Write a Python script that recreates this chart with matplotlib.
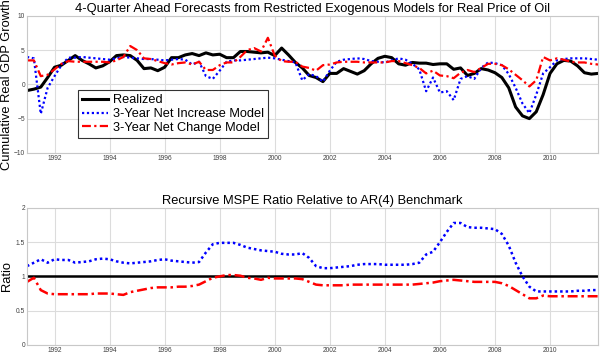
import numpy as np
import matplotlib
matplotlib.use("Agg")
import matplotlib.pyplot as plt

plt.rcParams["font.family"] = ["Liberation Sans", "DejaVu Sans"]

# quarterly dates 1991Q1 .. 2011Q4
start_year = 1991
n_years = 21
dates = start_year + np.arange(n_years * 4) / 4.0

# --- top panel: 4-quarter-ahead cumulative real GDP growth ---
realized = [
    -0.9, -0.7, -0.4, 1.0,   # 1991
    2.5, 2.8, 3.5, 4.2,      # 1992
    3.5, 3.0, 2.4, 2.7,      # 1993
    3.3, 4.2, 4.3, 4.2,      # 1994
    3.5, 2.3, 2.4, 2.0,      # 1995
    2.5, 3.9, 3.9, 4.3,      # 1996
    4.5, 4.2, 4.6, 4.3,      # 1997
    4.4, 3.9, 3.9, 4.8,      # 1998
    4.8, 4.7, 4.6, 4.7,      # 1999
    4.2, 5.3, 4.3, 3.2,      # 2000
    2.4, 1.3, 1.0, 0.4,      # 2001
    1.6, 1.6, 2.3, 1.9,      # 2002
    1.5, 2.0, 3.0, 3.8,      # 2003
    4.1, 3.9, 3.0, 2.8,      # 2004
    3.2, 3.1, 3.1, 2.9,      # 2005
    3.0, 3.0, 2.2, 2.4,      # 2006
    1.3, 1.6, 2.3, 2.1,      # 2007
    1.7, 1.0, -0.5, -3.3,    # 2008
    -4.6, -5.0, -4.0, -1.5,  # 2009
    1.6, 3.0, 3.5, 3.4,      # 2010
    2.7, 1.7, 1.5, 1.6,      # 2011
]
net_increase = [
    4.0, 3.8, -4.3, -0.5,
    1.2, 2.8, 3.9, 3.9,
    4.0, 3.9, 3.8, 3.7,
    3.6, 3.8, 4.0, 3.9,
    3.8, 3.7, 3.7, 3.6,
    3.5, 3.6, 3.7, 3.6,
    2.9, 3.3, 1.2, 0.8,
    2.0, 3.3, 3.5, 3.5,
    3.6, 3.7, 3.8, 3.9,
    3.8, 3.6, 3.4, 3.2,
    0.6, 1.5, 1.2, 0.4,
    2.0, 3.3, 3.6, 3.7,
    3.8, 3.7, 3.4, 3.3,
    3.2, 3.5, 3.8, 3.6,
    3.0, 2.2, -1.0, 1.0,
    -1.2, -1.0, -2.3, 0.8,
    1.2, 0.8, 2.4, 3.2,
    3.1, 2.8, 1.5, -0.5,
    -2.8, -4.2, -1.5, 1.6,
    2.5, 3.5, 3.7, 3.8,
    3.8, 3.8, 3.7, 3.6,
]
net_change = [
    3.5, 3.5, 1.2, 1.4,
    2.2, 3.0, 3.4, 3.3,
    3.3, 3.3, 3.3, 3.3,
    3.2, 3.5, 4.0, 5.6,
    5.0, 3.8, 3.7, 3.4,
    3.1, 2.9, 3.1, 3.2,
    2.9, 3.3, 2.1, 2.1,
    2.8, 3.2, 3.2, 4.0,
    5.0, 5.3, 4.8, 6.8,
    4.2, 3.4, 3.3, 3.3,
    2.6, 2.4, 2.0, 2.8,
    2.9, 3.2, 3.3, 3.3,
    3.3, 3.2, 3.2, 3.2,
    3.2, 3.4, 3.4, 3.1,
    2.8, 2.4, 1.6, 2.0,
    1.3, 1.2, 0.9, 1.7,
    2.1, 1.8, 2.4, 3.0,
    3.0, 2.8, 2.2, 1.4,
    0.6, -0.3, 0.6, 4.0,
    3.5, 3.8, 3.6, 3.3,
    3.2, 3.2, 3.0, 2.9,
]

# --- bottom panel: recursive MSPE ratio ---
mspe_increase = [
    1.15, 1.20, 1.25, 1.20,
    1.25, 1.24, 1.24, 1.20,
    1.21, 1.22, 1.25, 1.26,
    1.25, 1.22, 1.20, 1.19,
    1.20, 1.21, 1.22, 1.24,
    1.25, 1.23, 1.22, 1.21,
    1.20, 1.21, 1.35, 1.47,
    1.49, 1.49, 1.49, 1.46,
    1.42, 1.40, 1.38, 1.37,
    1.36, 1.33, 1.32, 1.32,
    1.34, 1.27, 1.15, 1.12,
    1.12, 1.13, 1.14, 1.15,
    1.17, 1.18, 1.18, 1.18,
    1.17, 1.17, 1.17, 1.17,
    1.18, 1.20, 1.32, 1.36,
    1.50, 1.65, 1.78, 1.78,
    1.72, 1.71, 1.71, 1.70,
    1.69, 1.62, 1.45, 1.20,
    1.00, 0.85, 0.78, 0.78,
    0.78, 0.78, 0.78, 0.78,
    0.79, 0.79, 0.80, 0.80,
]
mspe_change = [
    0.92, 0.98, 0.80, 0.75,
    0.74, 0.74, 0.74, 0.74,
    0.74, 0.74, 0.75, 0.75,
    0.75, 0.74, 0.73, 0.77,
    0.79, 0.81, 0.83, 0.84,
    0.84, 0.84, 0.85, 0.85,
    0.86, 0.88, 0.93, 0.98,
    1.00, 1.02, 1.02, 1.01,
    0.98, 0.97, 0.95, 0.98,
    0.97, 0.97, 0.97, 0.97,
    0.96, 0.92, 0.88, 0.87,
    0.87, 0.87, 0.87, 0.88,
    0.88, 0.88, 0.88, 0.88,
    0.88, 0.88, 0.88, 0.88,
    0.88, 0.89, 0.90, 0.91,
    0.93, 0.94, 0.95, 0.94,
    0.93, 0.92, 0.92, 0.92,
    0.92, 0.90, 0.86, 0.80,
    0.74, 0.68, 0.68, 0.72,
    0.71, 0.71, 0.71, 0.71,
    0.71, 0.71, 0.71, 0.71,
]

xticks = list(range(1992, 2012, 2))

fig = plt.figure(figsize=(6.0, 3.53), dpi=100)
ax1 = fig.add_axes([0.045, 0.567, 0.952, 0.388])
ax2 = fig.add_axes([0.045, 0.023, 0.952, 0.388])


def style_axes(ax):
    ax.set_xlim(dates[0], dates[-1])
    ax.set_xticks(xticks)
    ax.grid(True, color="#dcdcdc", linewidth=0.8)
    ax.set_axisbelow(True)
    for s in ax.spines.values():
        s.set_color("#c8c8c8")
        s.set_linewidth(0.8)
    ax.tick_params(length=0, labelsize=4.8, colors="#404040", pad=1.5)


dashdot = (0, (4, 1.5, 1, 1.5))
dotted = (0, (1, 1.2))

# top
ax1.plot(dates, realized, color="black", lw=2.2, label="Realized")
ax1.plot(dates, net_increase, color="blue", lw=1.6, ls=dotted,
         label="3-Year Net Increase Model")
ax1.plot(dates, net_change, color="red", lw=1.6, ls=dashdot,
         label="3-Year Net Change Model")
style_axes(ax1)
ax1.set_ylim(-10, 10)
ax1.set_yticks([-10, -5, 0, 5, 10])
ax1.set_title("4-Quarter Ahead Forecasts from Restricted Exogenous Models for Real Price of Oil",
              fontsize=9.3, pad=3)
leg = ax1.legend(loc="lower left", bbox_to_anchor=(0.09, 0.11), fontsize=9.2,
                 frameon=True, fancybox=False, edgecolor="black",
                 handlelength=2.0, borderpad=0.3, labelspacing=0.15,
                 handletextpad=0.4, borderaxespad=0)
leg.get_frame().set_linewidth(0.8)

# bottom
ax2.axhline(1.0, color="black", lw=1.8)
ax2.plot(dates, mspe_increase, color="blue", lw=1.8, ls=dotted)
ax2.plot(dates, mspe_change, color="red", lw=1.8, ls=dashdot)
style_axes(ax2)
ax2.set_ylim(0, 2)
ax2.set_yticks([0, 0.5, 1, 1.5, 2])
ax2.set_yticklabels(["0", "0.5", "1", "1.5", "2"])
ax2.set_title("Recursive MSPE Ratio Relative to AR(4) Benchmark", fontsize=9.3, pad=3)

# y labels sit at the far left edge, outside the tick labels
fig.text(0.011, 0.761, "Cumulative Real GDP Growth", rotation=90,
         ha="center", va="center", fontsize=9.3)
fig.text(0.011, 0.217, "Ratio", rotation=90, ha="center", va="center", fontsize=9.3)

fig.savefig("out.png", dpi=100)
